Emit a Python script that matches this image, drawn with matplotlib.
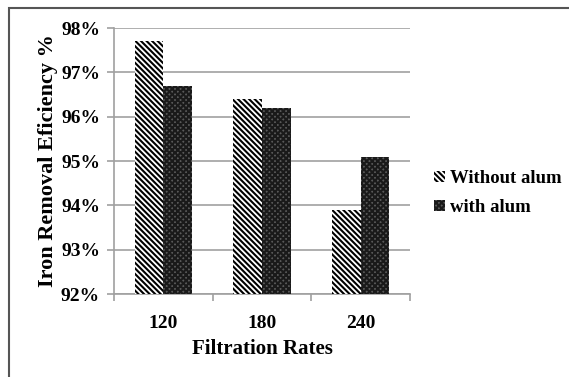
import matplotlib
matplotlib.use("Agg")
import matplotlib.pyplot as plt
import numpy as np
from matplotlib.patches import Rectangle
from matplotlib.ticker import FuncFormatter

categories = ["120", "180", "240"]
without_alum = [97.7, 96.4, 93.9]
with_alum = [96.7, 96.2, 95.1]
series_names = ["Without alum", "with alum"]

plt.rcParams['font.family'] = ['Liberation Serif', 'DejaVu Serif']
plt.rcParams['font.weight'] = 'bold'
plt.rcParams['hatch.linewidth'] = 1.5

fig = plt.figure(figsize=(5.69, 3.77), dpi=100)
fig.patch.set_facecolor('white')
# outer border (cut off on right/bottom)
fig.patches.append(Rectangle((9/569, -0.1), 1.2, 1 - 8/377 + 0.1, transform=fig.transFigure,
                             fill=False, edgecolor='#555555', linewidth=1.5))

ax = fig.add_axes([114/569, 1 - 294/377, (410 - 114)/569, (294 - 28)/377])
x = np.arange(len(categories))
w = 0.29
b1 = ax.bar(x - w/2, np.array(without_alum) - 92, w, bottom=92, color='white',
            edgecolor='black', hatch='\\\\\\\\\\\\', linewidth=0, label=series_names[0], zorder=3)
b2 = ax.bar(x + w/2, np.array(with_alum) - 92, w, bottom=92, color='#5a5a5a',
            edgecolor='#1a1a1a', hatch='xxxxxx', linewidth=0, label=series_names[1], zorder=3)

ax.set_xlim(-0.5, 2.5)
ax.set_ylim(92, 98)
ax.set_yticks(np.arange(92, 99, 1))
ax.yaxis.set_major_formatter(FuncFormatter(lambda v, p: f"{int(round(v))}%"))
ax.set_xticks(x)
ax.set_xticklabels(categories)
ax.set_xticks([-0.5, 0.5, 1.5, 2.5], minor=True)
ax.tick_params(axis='x', which='major', length=0, pad=15, labelsize=14)
ax.tick_params(axis='x', which='minor', length=5, color='#a0a0a0', width=1.2)
ax.tick_params(axis='y', length=5, color='#a0a0a0', width=1.2, labelsize=14, pad=5)
ax.grid(axis='y', color='#a8a8a8', linewidth=1.3, zorder=0)
for s in ['top', 'right']:
    ax.spines[s].set_visible(False)
for s in ['left', 'bottom']:
    ax.spines[s].set_color('#a0a0a0')
    ax.spines[s].set_linewidth(1.2)

ax.set_xlabel("Filtration Rates", fontsize=15, fontweight='bold', labelpad=5)
ax.set_ylabel("Iron Removal Eficiency %", fontsize=16, fontweight='bold', labelpad=2)

leg = ax.legend(loc='center left', bbox_to_anchor=(1.025, 0.38), frameon=False,
                handlelength=0.55, handleheight=0.55, handletextpad=0.3,
                labelspacing=0.65, prop={'weight': 'bold', 'size': 13.5})

fig.savefig("out.png", dpi=100)
